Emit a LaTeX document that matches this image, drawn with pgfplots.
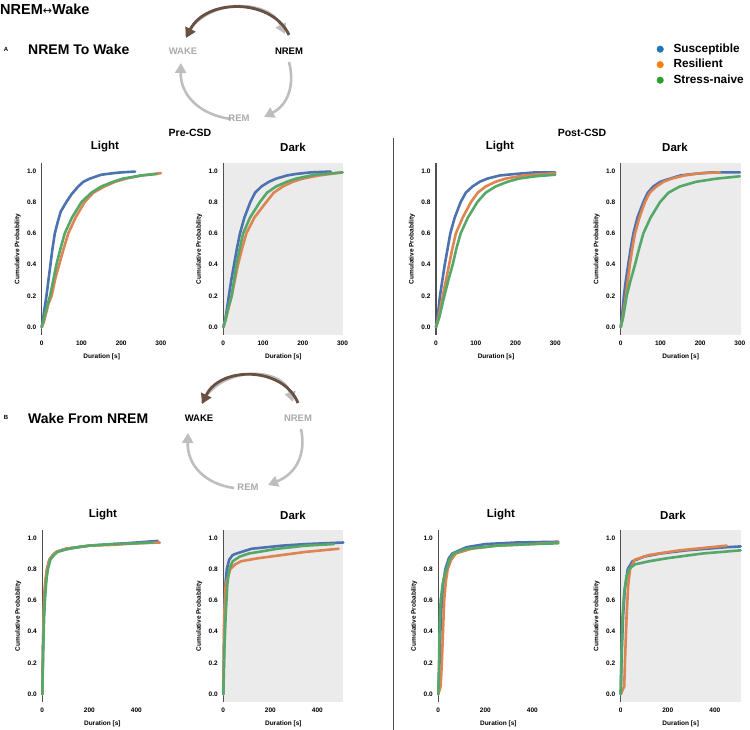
\documentclass[border=0pt]{standalone}
\usepackage{fontspec}
\setmainfont{Liberation Sans}
\newfontfamily\dejavu{DejaVu Sans}
\usepackage{pgfplots}
\pgfplotsset{compat=1.18}
\usetikzlibrary{arrows.meta}
\definecolor{susc}{HTML}{4C72B0}
\definecolor{resi}{HTML}{DD8452}
\definecolor{naive}{HTML}{55A868}
\definecolor{tabblue}{HTML}{1F77B4}
\definecolor{taborange}{HTML}{FF7F0E}
\definecolor{tabgreen}{HTML}{2CA02C}
\definecolor{bgray}{RGB}{235,235,235}
\definecolor{spinec}{RGB}{80,80,80}
\definecolor{arrowbrown}{RGB}{104,80,66}
\definecolor{arrowgray}{RGB}{190,190,190}
\definecolor{labgray}{RGB}{170,170,170}

\newcommand{\tickfont}{\bfseries\fontsize{6.5}{7}\selectfont}
\pgfplotsset{
  cdf/.style={
    scale only axis, width=120pt, height=172pt, anchor=south west,
    ymin=-0.05, ymax=1.05,
    ytick={0,0.2,0.4,0.6,0.8,1.0},
    /pgf/number format/assume math mode=true,
    tick label style={font=\tickfont},
    xticklabel style={yshift=-2pt},
    yticklabel style={xshift=-2pt, /pgf/number format/fixed,
      /pgf/number format/fixed zerofill, /pgf/number format/precision=1},
    major tick length=0pt,
    axis line style={draw=none},
    xlabel={Duration [s]}, ylabel={Cumulative Probability},
    label style={font=\tickfont},
    xlabel style={at={(axis description cs:0.5,-0.125)}, anchor=center},
    ylabel style={at={(axis description cs:-0.2,0.5)}, anchor=center},
    clip=false,
  },
  cdfA/.style={cdf, xmin=0, xmax=302, xtick={0,100,200,300}},
  cdfB/.style={cdf, xmin=0, xmax=510, xtick={0,200,400}},
  dark/.style={axis background/.style={fill=bgray}},
  cl/.style={#1, line width=2.6pt, line join=round, line cap=round},
}
\newcommand{\spine}{\draw[spinec, line width=1.2pt] (rel axis cs:0,0) -- (rel axis cs:0,1);}

\begin{document}
\begin{tikzpicture}[x=1pt,y=-1pt]
\path[use as bounding box] (0,0) rectangle (750,730);

% ---------------- A: NREM to Wake ----------------
\begin{axis}[cdfA, at={(41.7pt,-335pt)}]
  \spine
  \addplot[cl=susc] coordinates {(0,0)(3,0.04)(6,0.10)(12,0.20)(17,0.30)(22,0.40)(27,0.50)(33,0.60)(40,0.67)(48,0.74)(62,0.80)(75,0.85)(92,0.90)(105,0.93)(121,0.95)(150,0.975)(180,0.985)(200,0.99)(235,0.995)};
  \addplot[cl=resi] coordinates {(0,0)(5,0.03)(10,0.08)(17,0.15)(25,0.20)(35,0.32)(44,0.40)(55,0.50)(67,0.60)(85,0.70)(108,0.80)(130,0.86)(158,0.90)(185,0.93)(212,0.95)(250,0.97)(300,0.985)};
  \addplot[cl=naive] coordinates {(0,0)(5,0.05)(12,0.12)(21,0.20)(29,0.30)(37,0.40)(47,0.50)(58,0.60)(76,0.70)(100,0.80)(125,0.86)(150,0.90)(180,0.93)(204,0.95)(250,0.97)(290,0.98)};
\end{axis}

\begin{axis}[cdfA, dark, at={(223.3pt,-335pt)}]
  \spine
  \addplot[cl=susc] coordinates {(0,0)(5,0.05)(10,0.13)(14,0.20)(20,0.30)(27,0.40)(34,0.50)(42,0.60)(53,0.70)(68,0.80)(80,0.86)(96,0.90)(115,0.93)(133,0.95)(160,0.97)(183,0.98)(220,0.99)(270,0.995)};
  \addplot[cl=resi] coordinates {(0,0)(6,0.05)(13,0.12)(21,0.20)(29,0.30)(37,0.40)(47,0.50)(58,0.60)(78,0.70)(108,0.80)(127,0.86)(150,0.90)(175,0.93)(200,0.95)(240,0.97)(300,0.99)};
  \addplot[cl=naive] coordinates {(0,0)(6,0.05)(12,0.12)(21,0.20)(27,0.30)(33,0.40)(41,0.50)(50,0.60)(67,0.70)(92,0.80)(110,0.86)(133,0.90)(160,0.93)(183,0.95)(230,0.975)(300,0.99)};
\end{axis}

\begin{axis}[cdfA, at={(436pt,-335pt)}]
  \spine
  \addplot[cl=susc] coordinates {(0,0)(4,0.06)(10,0.20)(16,0.30)(22,0.40)(29,0.50)(36,0.60)(47,0.70)(62,0.80)(75,0.86)(92,0.90)(110,0.93)(129,0.95)(160,0.97)(200,0.98)(250,0.99)(300,0.99)};
  \addplot[cl=resi] coordinates {(0,0)(6,0.06)(17,0.20)(25,0.30)(33,0.40)(41,0.50)(50,0.60)(67,0.70)(88,0.80)(105,0.86)(125,0.90)(150,0.93)(175,0.95)(220,0.97)(300,0.985)};
  \addplot[cl=naive] coordinates {(0,0)(8,0.06)(21,0.20)(31,0.30)(42,0.40)(51,0.50)(62,0.60)(80,0.70)(104,0.80)(125,0.86)(150,0.90)(180,0.93)(208,0.95)(250,0.965)(300,0.975)};
\end{axis}

\begin{axis}[cdfA, dark, at={(620.7pt,-335pt)},
  legend style={at={(axis description cs:0.275,1.708)}, anchor=north west,
    draw=none, fill=none, font=\bfseries\fontsize{11.8}{14}\selectfont,
    row sep=4pt, /tikz/every odd column/.append style={column sep=10pt},
    nodes={inner sep=0pt, text height=9pt, text depth=2.5pt}},
  legend cell align=left]
  \spine
  \addlegendimage{only marks, mark=*, mark size=3.3pt, color=tabblue}
  \addlegendentry{Susceptible}
  \addlegendimage{only marks, mark=*, mark size=3.3pt, color=taborange}
  \addlegendentry{Resilient}
  \addlegendimage{only marks, mark=*, mark size=3.3pt, color=tabgreen}
  \addlegendentry{Stress-naive}
  \addplot[cl=susc,forget plot] coordinates {(0,0)(3,0.06)(8,0.20)(13,0.30)(19,0.40)(25,0.50)(32,0.60)(42,0.70)(57,0.80)(68,0.86)(82,0.90)(100,0.93)(124,0.95)(150,0.97)(183,0.98)(230,0.99)(300,0.99)};
  \addplot[cl=resi,forget plot] coordinates {(0,0)(5,0.06)(13,0.20)(18,0.30)(23,0.40)(29,0.50)(36,0.60)(47,0.70)(61,0.80)(73,0.86)(90,0.90)(108,0.93)(128,0.95)(160,0.97)(200,0.985)(250,0.99)};
  \addplot[cl=naive,forget plot] coordinates {(0,0)(6,0.06)(15,0.20)(25,0.30)(36,0.40)(46,0.50)(57,0.60)(75,0.70)(99,0.80)(120,0.86)(149,0.90)(190,0.93)(241,0.95)(300,0.965)};
\end{axis}

% ---------------- B: Wake from NREM ----------------
\begin{axis}[cdfB, at={(42.3pt,-702pt)}]
  \spine
  \addplot[cl=susc] coordinates {(0,0)(3,0.3)(6,0.5)(10,0.62)(15,0.72)(20,0.8)(30,0.86)(45,0.89)(60,0.91)(100,0.93)(150,0.94)(200,0.95)(300,0.96)(400,0.97)(490,0.98)};
  \addplot[cl=resi] coordinates {(0,0)(3,0.3)(6,0.55)(10,0.68)(15,0.75)(20,0.8)(30,0.86)(45,0.89)(60,0.91)(100,0.93)(150,0.94)(200,0.95)(300,0.955)(400,0.965)(500,0.97)};
  \addplot[cl=naive] coordinates {(0,0)(4,0.3)(8,0.5)(12,0.62)(18,0.74)(24,0.8)(34,0.86)(50,0.89)(65,0.91)(100,0.925)(150,0.94)(200,0.95)(300,0.96)(400,0.965)(470,0.97)};
\end{axis}

\begin{axis}[cdfB, dark, at={(223.3pt,-702pt)}]
  \spine
  \addplot[cl=susc] coordinates {(0,0)(3,0.3)(5,0.55)(9,0.7)(15,0.8)(25,0.86)(40,0.89)(57,0.9)(120,0.93)(250,0.95)(350,0.96)(510,0.97)};
  \addplot[cl=resi] coordinates {(0,0)(2,0.3)(4,0.5)(10,0.7)(30,0.8)(50,0.83)(75,0.85)(150,0.87)(250,0.89)(350,0.91)(490,0.93)};
  \addplot[cl=naive] coordinates {(0,0)(5,0.3)(10,0.5)(17,0.7)(25,0.8)(40,0.85)(70,0.88)(110,0.9)(230,0.93)(350,0.95)(470,0.96)};
\end{axis}

\begin{axis}[cdfB, at={(438.3pt,-702pt)}]
  \spine
  \addplot[cl=susc] coordinates {(0,0)(5,0.2)(10,0.45)(15,0.6)(22,0.72)(30,0.8)(45,0.87)(60,0.9)(120,0.94)(200,0.96)(330,0.97)(510,0.975)};
  \addplot[cl=resi] coordinates {(0,0)(10,0.05)(15,0.2)(20,0.4)(25,0.6)(32,0.72)(40,0.8)(55,0.86)(75,0.9)(140,0.93)(250,0.95)(400,0.96)(510,0.97)};
  \addplot[cl=naive] coordinates {(0,0)(3,0.2)(6,0.45)(10,0.6)(20,0.72)(35,0.8)(48,0.86)(65,0.9)(120,0.93)(250,0.95)(400,0.96)(510,0.965)};
\end{axis}

\begin{axis}[cdfB, dark, at={(620.7pt,-702pt)}]
  \spine
  \addplot[cl=susc] coordinates {(0,0)(4,0.25)(10,0.5)(18,0.68)(30,0.8)(50,0.85)(100,0.88)(170,0.9)(280,0.92)(450,0.94)(510,0.945)};
  \addplot[cl=resi] coordinates {(0,0)(15,0.05)(18,0.2)(25,0.5)(32,0.7)(40,0.8)(60,0.86)(120,0.89)(250,0.92)(450,0.95)};
  \addplot[cl=naive] coordinates {(0,0)(3,0.25)(8,0.5)(15,0.65)(25,0.75)(35,0.8)(60,0.83)(120,0.85)(200,0.87)(350,0.9)(510,0.92)};
\end{axis}

% ---------------- titles and headers ----------------
\tikzset{ttl/.style={font=\bfseries\fontsize{11.5}{13}\selectfont},
         grp/.style={font=\bfseries\fontsize{10.5}{12}\selectfont}}
\node[grp] at (190,133) {Pre-CSD};
\node[grp] at (582,133) {Post-CSD};
\node[ttl] at (105,147) {Light};
\node[ttl] at (293,147) {Dark};
\node[ttl] at (500,147) {Light};
\node[ttl] at (675,147) {Dark};
\node[ttl] at (103,515) {Light};
\node[ttl] at (293,515) {Dark};
\node[ttl] at (501,515) {Light};
\node[ttl] at (673,515) {Dark};

\draw[spinec, line width=0.9pt] (393,138) -- (393,730);

\node[anchor=west, inner sep=0pt, font=\bfseries\fontsize{14.5}{16}\selectfont] at (0,9) {NREM{\dejavu\mdseries\fontsize{11}{12}\selectfont↔}Wake};
\node[inner sep=0pt, font=\bfseries\fontsize{6}{7}\selectfont] at (6,49) {A};
\node[anchor=west, inner sep=0pt, font=\bfseries\fontsize{14}{16}\selectfont] at (28,49) {NREM To Wake};
\node[inner sep=0pt, font=\bfseries\fontsize{6}{7}\selectfont] at (6,417) {B};
\node[anchor=west, inner sep=0pt, font=\bfseries\fontsize{14}{16}\selectfont] at (28,418) {Wake From NREM};

% ---------------- state diagrams ----------------
\tikzset{
  st/.style={font=\bfseries\fontsize{9.5}{11}\selectfont, inner sep=0pt},
  garr/.style={arrowgray, line width=2.6pt, -{Triangle[length=10pt,width=11pt]}},
  barr/.style={arrowbrown, line width=2.8pt, -{Triangle[length=10pt,width=11pt]}},
}
% A
\draw[garr] (186,36) .. controls (205,-2) and (268,-2) .. (285,34);
\draw[garr] (289,62) .. controls (295,85) and (288,105) .. (264,117);
\draw[garr] (231,119) .. controls (200,115) and (180,95) .. (181,63);
\draw[barr] (289,35) .. controls (272,-2) and (206,-2) .. (186,38);
\node[st, labgray] at (183,51) {WAKE};
\node[st, black] at (289,51) {NREM};
\node[st, labgray] at (239,118) {REM};
% B
\draw[garr] (202,403) .. controls (220,366) and (282,366) .. (293,402);
\draw[garr] (301,429) .. controls (306,452) and (298,473) .. (268,485);
\draw[garr] (234,488) .. controls (205,484) and (187,465) .. (188,433);
\draw[barr] (298,403) .. controls (283,366) and (220,366) .. (202,404);
\node[st, black] at (199,418) {WAKE};
\node[st, labgray] at (298,418) {NREM};
\node[st, labgray] at (248,487) {REM};
\end{tikzpicture}
\end{document}
